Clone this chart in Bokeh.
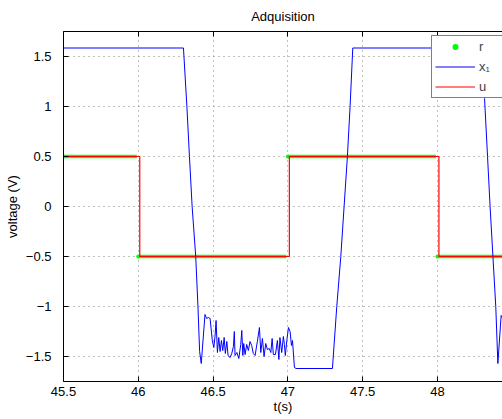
from bokeh.plotting import figure
from bokeh.models import (FixedTicker, LinearAxis, Legend, LegendItem, Range1d,
                          CustomJSTickFormatter, Span)
from bokeh.embed import file_html
from bokeh.resources import INLINE

# ---------------- data ----------------
x_ticks = [45.5, 46.0, 46.5, 47.0, 47.5, 48.0]
y_ticks = [-1.5, -1.0, -0.5, 0.0, 0.5, 1.0, 1.5]

# reference r: square wave levels (sampled dots)
r_start = [45.5, 46.0, 47.0, 48.0]
r_end = [45.99, 46.99, 47.99, 48.44]
r_level = [0.5, -0.5, 0.5, -0.5]

# control u: step signal (switches one sample after r)
u_t = [45.5, 46.01, 47.01, 48.01, 48.44]
u_v = [0.5, -0.5, 0.5, -0.5, -0.5]

# measured x1
x1_t = [45.5, 46.302, 46.325, 46.342, 46.360, 46.384, 46.399, 46.410, 46.421,
        46.446, 46.457, 46.468, 46.480, 46.495, 46.505, 46.513, 46.520, 46.529,
        46.538, 46.547, 46.556, 46.565, 46.574, 46.582, 46.592, 46.600, 46.614,
        46.625, 46.636, 46.642, 46.647, 46.659, 46.672, 46.685, 46.692, 46.699,
        46.705, 46.714, 46.725, 46.736, 46.747, 46.758, 46.769, 46.781, 46.796,
        46.810, 46.819, 46.830, 46.841, 46.852, 46.863, 46.876, 46.886, 46.895,
        46.903, 46.917, 46.930, 46.940, 46.947, 46.959, 46.970, 46.977, 46.983,
        46.993, 47.004, 47.015, 47.024, 47.031, 47.044, 47.055, 47.298, 47.327,
        47.354, 47.376, 47.398, 47.416, 47.434, 48.292, 48.315, 48.335, 48.352,
        48.371, 48.390, 48.404, 48.426, 48.44]
x1_v = [1.585, 1.585, 1.0, 0.5, 0.0, -0.5, -1.0, -1.45, -1.57,
        -1.08, -1.12, -1.11, -1.12, -1.34, -1.41, -1.30, -1.14, -1.46,
        -1.31, -1.45, -1.34, -1.44, -1.31, -1.47, -1.35, -1.49, -1.51,
        -1.47, -1.40, -1.25, -1.49, -1.46, -1.52, -1.38, -1.24, -1.49,
        -1.37, -1.48, -1.38, -1.44, -1.35, -1.39, -1.47, -1.49, -1.35,
        -1.21, -1.46, -1.32, -1.50, -1.37, -1.43, -1.42, -1.46, -1.32,
        -1.48, -1.48, -1.34, -1.53, -1.31, -1.46, -1.30, -1.38, -1.49,
        -1.34, -1.21, -1.25, -1.39, -1.34, -1.61, -1.62, -1.62, -1.0,
        -0.5, 0.0, 0.5, 1.0, 1.585, 1.585, 1.08, 0.5, 0.0,
        -0.5, -1.0, -1.57, -1.09, -1.13]

FONT = "Liberation Sans"

p = figure(width=502, height=419, output_backend="svg", toolbar_location=None,
           x_range=Range1d(45.5, 48.435), y_range=Range1d(-1.75, 1.75),
           min_border_left=63, min_border_right=0, min_border_top=31,
           min_border_bottom=38, x_axis_label="t(s)", y_axis_label="voltage (V)")
p.outline_line_color = None
p.background_fill_color = "white"
p.border_fill_color = "white"

p.title.text = "Adquisition"
p.title.align = "center"
p.title.vertical_align = "top"
p.title.text_font = FONT
p.title.text_font_size = "13px"
p.title.text_font_style = "normal"
p.title.text_color = "black"
p.title.standoff = 12

for ax in (p.xaxis[0], p.yaxis[0]):
    ax.major_tick_in = 5
    ax.major_tick_out = 0
    ax.minor_tick_in = 0
    ax.minor_tick_out = 0
    ax.axis_line_color = "black"
    ax.major_tick_line_color = "black"
    ax.major_label_text_font = FONT
    ax.major_label_text_font_size = "13px"
    ax.major_label_text_color = "black"
    ax.axis_label_text_font = FONT
    ax.axis_label_text_font_size = "13px"
    ax.axis_label_text_font_style = "normal"
    ax.axis_label_text_color = "black"

p.xaxis[0].ticker = FixedTicker(ticks=x_ticks)
p.yaxis[0].ticker = FixedTicker(ticks=y_ticks)
p.xaxis[0].major_label_standoff = 5
p.xaxis[0].axis_label_standoff = 0
p.yaxis[0].major_label_standoff = 12
p.yaxis[0].axis_label_standoff = 3
p.yaxis[0].formatter = CustomJSTickFormatter(
    code="return tick < 0 ? '\u2212' + Math.abs(tick).toString() : tick.toString();")

# top frame line with inward ticks (no labels)
top = LinearAxis(ticker=FixedTicker(ticks=x_ticks), major_tick_in=5, major_tick_out=0,
                 minor_tick_in=0, minor_tick_out=0, major_label_text_color=None,
                 major_label_text_font_size="1px", major_label_standoff=0,
                 axis_line_color="black", axis_line_width=1,
                 major_tick_line_color="black")
p.add_layout(top, "above")
p.add_layout(Span(location=1.75, dimension="width", line_color="black", line_width=1))

p.xgrid.ticker = FixedTicker(ticks=x_ticks)
p.ygrid.ticker = FixedTicker(ticks=y_ticks)
for g in (p.xgrid[0], p.ygrid[0]):
    g.grid_line_color = "#808080"
    g.grid_line_dash = "1 4"
    g.grid_line_width = 1

# r: green sampled dots (shown as thick band)
p.segment(x0=r_start, x1=r_end, y0=r_level, y1=r_level, line_color="#00ff00",
          line_width=3.5)
r_dots = p.scatter(r_start, r_level, marker="circle", size=4, fill_color="#00ff00",
                   line_color=None)
x1_line = p.line(x1_t, x1_v, line_color="#0000ff", line_width=1)
u_line = p.step(u_t, u_v, mode="after", line_color="#ff0000", line_width=1.2)

legend = Legend(items=[LegendItem(label="r", renderers=[r_dots]),
                       LegendItem(label="x\u2081", renderers=[x1_line]),
                       LegendItem(label="u", renderers=[u_line])],
                location=(368, 283))
legend.border_line_color = "black"
legend.border_line_width = 1
legend.background_fill_color = "white"
legend.background_fill_alpha = 1
legend.label_text_font = FONT
legend.label_text_font_size = "13px"
legend.padding = 3
legend.spacing = 5
legend.margin = 0
legend.glyph_width = 40
legend.glyph_height = 15
legend.label_height = 15
legend.label_width = 20
legend.label_standoff = 4
p.add_layout(legend, "center")

open("out.html", "w").write(file_html(p, INLINE))
